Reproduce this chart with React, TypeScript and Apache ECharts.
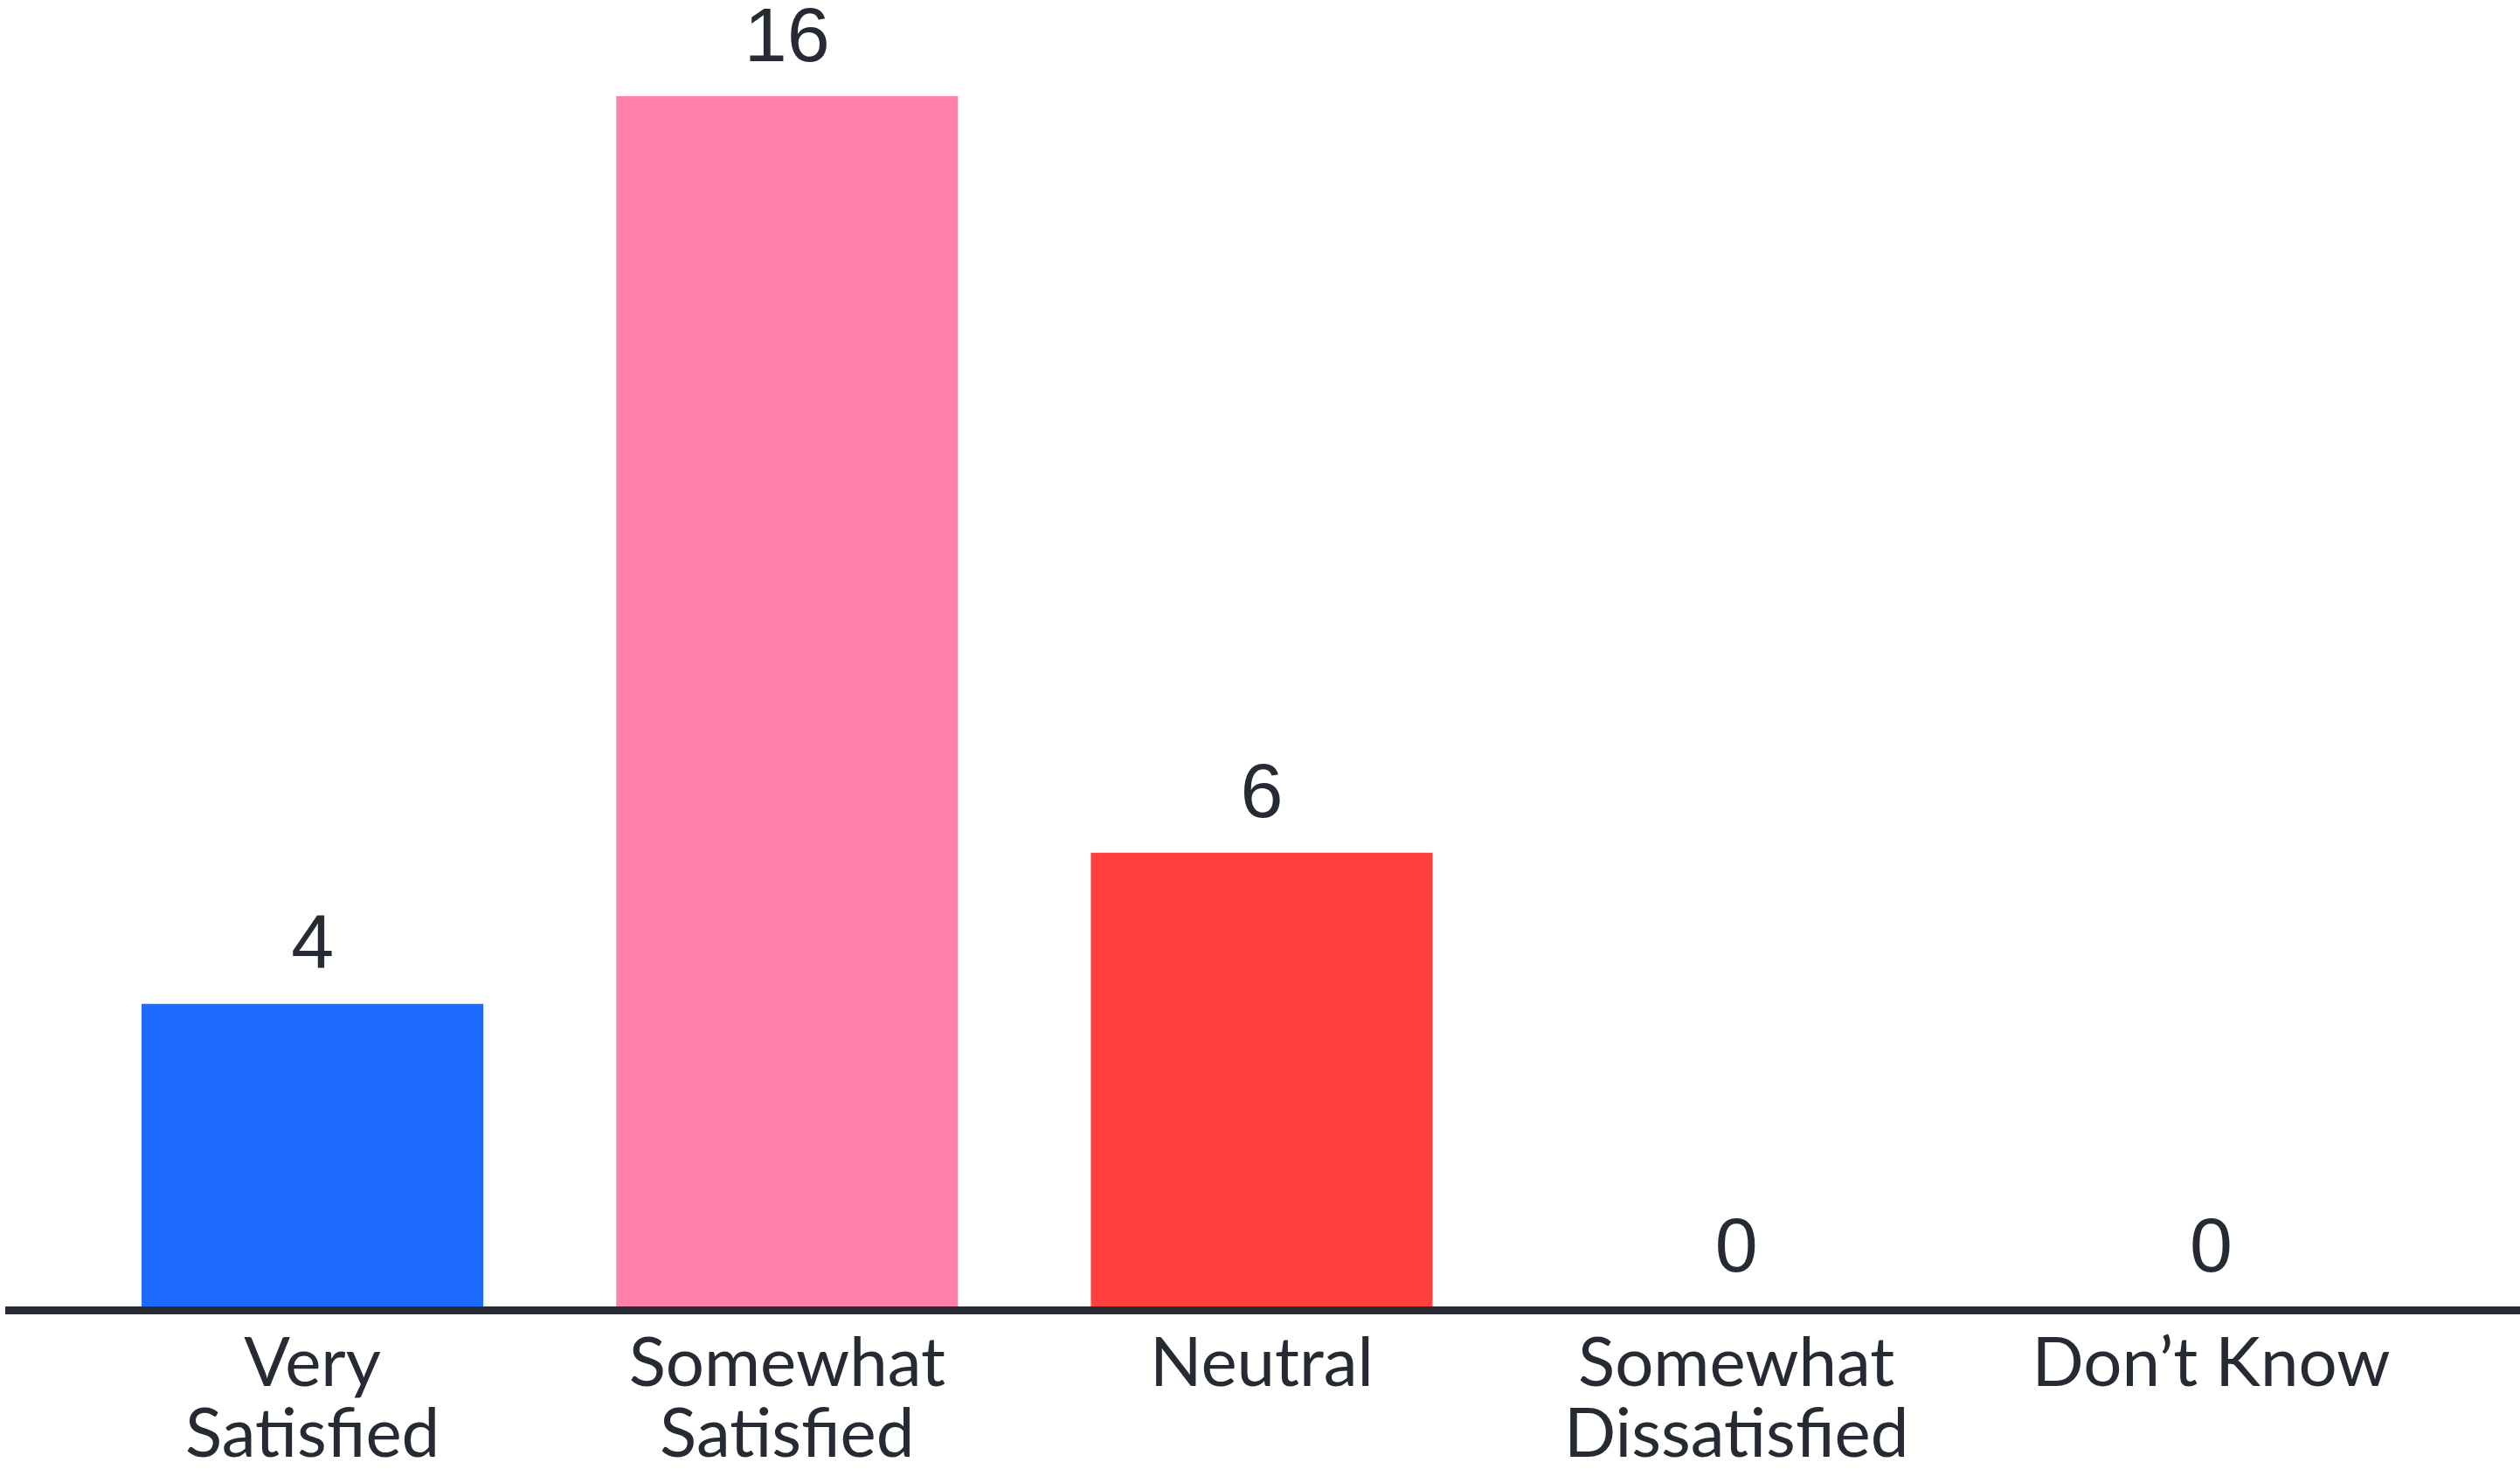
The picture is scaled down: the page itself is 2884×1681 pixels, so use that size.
import React, { useEffect, useRef } from "react";
import * as echarts from "echarts";

const categories = ["Very\nSatisfied", "Somewhat\nSatisfied", "Neutral", "Somewhat\nDissatisfied", "Don’t Know"];
const values = [4, 16, 6, 0, 0];
const barColors = ["#1c6bfe", "#ff80aa", "#ff403d", "#8c8c8c", "#8c8c8c"];

const TEXT = "#262a33";

export default function App() {
  const ref = useRef<HTMLDivElement>(null);
  useEffect(() => {
    if (!ref.current) return;
    const chart = echarts.init(ref.current, null, { renderer: "svg" });
    chart.setOption({
      animation: false,
      backgroundColor: "#ffffff",
      grid: { left: 86, right: 82, top: 110, bottom: 186, containLabel: false },
      xAxis: {
        type: "category",
        data: categories,
        axisLine: { show: false },
        axisTick: { show: false },
        axisLabel: {
          color: TEXT,
          fontFamily: "Lato",
          fontSize: 78,
          lineHeight: 81,
          margin: 20,
          interval: 0,
        },
      },
      yAxis: {
        type: "value",
        min: 0,
        max: 16,
        show: false,
        splitLine: { show: false },
      },
      series: [
        {
          type: "bar",
          data: values.map((v, i) => ({ value: v, itemStyle: { color: barColors[i] } })),
          barCategoryGap: "28%",
          label: {
            show: true,
            position: "top",
            distance: 27,
            color: TEXT,
            fontFamily: "Liberation Sans",
            fontSize: 88,
          },
        },
      ],
      graphic: [
        {
          type: "line",
          shape: { x1: 6, y1: 1499.5, x2: 2884, y2: 1499.5 },
          style: { stroke: TEXT, lineWidth: 9 },
          z: 100,
        },
      ],
    });
    return () => chart.dispose();
  }, []);
  return (
    <div
      ref={ref}
      style={{ position: "fixed", left: 0, top: 0, width: 2884, height: 1681, background: "#fff" }}
    />
  );
}
